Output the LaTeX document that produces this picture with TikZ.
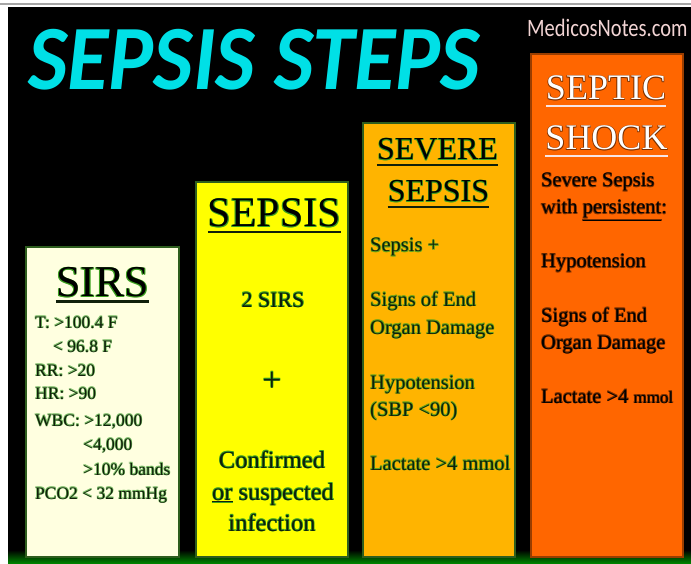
\documentclass[tikz,border=0pt]{standalone}
\usepackage{fontspec}
\setmainfont{Liberation Serif}
\newfontfamily\titlefont{Carlito}
\definecolor{cream}{HTML}{FFFFE0}
\definecolor{ylw}{HTML}{FFFF00}
\definecolor{amber}{HTML}{FFB400}
\definecolor{redor}{HTML}{FF6600}
\definecolor{cyant}{HTML}{00E0E6}
\definecolor{pinkt}{HTML}{F2D4D4}
\definecolor{txtc}{HTML}{10200A}
\definecolor{glowg}{HTML}{3CA020}
\definecolor{glowb}{HTML}{7A3000}
\definecolor{edgec}{HTML}{2E5E1E}
\newcommand\glowtxt[2]{%
 \makebox[0pt][l]{\color{#1}\kern-0.55pt\raisebox{0.55pt}{#2}}%
 \makebox[0pt][l]{\color{#1}\kern0.55pt\raisebox{-0.55pt}{#2}}%
 \makebox[0pt][l]{\color{#1}\kern0.55pt\raisebox{0.55pt}{#2}}%
 \makebox[0pt][l]{\color{#1}\kern-0.55pt\raisebox{-0.55pt}{#2}}%
 #2}
\newcommand\fs[1]{\fontsize{#1}{#1}\selectfont}
\begin{document}
\begin{tikzpicture}[x=1pt,y=-1pt,
  panel/.style={draw=edgec,line width=1.2pt},
  txt/.style={inner sep=0pt,anchor=base west,text=txtc},
  head/.style={inner sep=0pt,anchor=base,text=black},
  uline/.style={line width=2.6pt,draw=txtc},
  wline/.style={line width=2.2pt,draw=pinkt!60!white}]
\useasboundingbox (0,0) rectangle (691,564);
\fill[white] (0,0) rectangle (691,564);
\draw[gray!70,line width=1.2pt] (0,4) -- (691,4);
\fill[black] (8,7) rectangle (691,564);
\shade[top color=black,bottom color=green!55!black] (8,550) rectangle (691,564);
% title
\node[inner sep=0pt,anchor=base west,text=cyant,font=\titlefont\bfseries\itshape\fs{92}] (title) at (28,90) {\scalebox{0.92}[1]{SEPSIS STEPS}};
\node[inner sep=0pt,anchor=base west,text=pinkt,font=\titlefont\fs{25}] (site) at (527,37) {\scalebox{0.82}[1]{MedicosNotes.com}};
% panels
\filldraw[panel,fill=cream] (26,247) rectangle (179,557);
\filldraw[panel,fill=ylw] (196,182) rectangle (348,557);
\filldraw[panel,fill=amber] (363,123) rectangle (515,557);
\filldraw[panel,fill=redor,draw=redor!60!black] (531,54) rectangle (683,557);
% SIRS
\node[head,font=\fs{44}] (sirsH) at (102.5,297) {\glowtxt{glowg}{SIRS}};
\draw[uline] ([yshift=-4.5pt]sirsH.base west) -- ([yshift=-4.5pt]sirsH.base east);
\begin{scope}[every node/.style={txt,font=\fs{17.5}}]
\node (s1) at (35,328) {\glowtxt{glowg!70!white}{T: >100.4 F}};
\node (s2) at (53,352) {\glowtxt{glowg!70!white}{< 96.8 F}};
\node (s3) at (35,376) {\glowtxt{glowg!70!white}{RR: >20}};
\node (s4) at (35,399) {\glowtxt{glowg!70!white}{HR: >90}};
\node (s5) at (35,426) {\glowtxt{glowg!70!white}{WBC: >12,000}};
\node (s6) at (83,450) {\glowtxt{glowg!70!white}{<4,000}};
\node (s7) at (83,475) {\glowtxt{glowg!70!white}{>10\% bands}};
\node (s8) at (35,499) {\glowtxt{glowg!70!white}{PCO2 < 32 mmHg}};
\end{scope}
% SEPSIS
\node[head,font=\fs{42}] (sepH) at (274.5,227) {\glowtxt{glowg}{SEPSIS}};
\draw[uline] ([yshift=-5pt]sepH.base west) -- ([yshift=-5pt]sepH.base east);
\begin{scope}[every node/.style={inner sep=0pt,anchor=base,text=txtc}]
\node[font=\fs{22}] (p1) at (273,307) {\glowtxt{glowg}{2 SIRS}};
\node[font=\fs{34}] (p2) at (272,391) {\glowtxt{glowg}{+}};
\node[font=\fs{24.5}] (p3) at (272,468) {\glowtxt{glowg}{Confirmed}};
\node[font=\fs{24.5}] (p4) at (273,500) {\glowtxt{glowg}{\underline{or} suspected}};
\node[font=\fs{24.5}] (p5) at (272,531) {\glowtxt{glowg}{infection}};
\end{scope}
% SEVERE SEPSIS
\node[head,font=\fs{32}] (sevH1) at (437.5,160) {\glowtxt{glowg}{SEVERE}};
\draw[uline] ([yshift=-5pt]sevH1.base west) -- ([yshift=-5pt]sevH1.base east);
\node[head,font=\fs{32}] (sevH2) at (438.5,202) {\glowtxt{glowg}{SEPSIS}};
\draw[uline] ([yshift=-5pt]sevH2.base west) -- ([yshift=-5pt]sevH2.base east);
\begin{scope}[every node/.style={txt,font=\fs{20.5}}]
\node (v1) at (370,252) {\glowtxt{glowg!80!amber}{Sepsis +}};
\node (v2) at (370,306) {\glowtxt{glowg!80!amber}{Signs of End}};
\node (v3) at (370,334) {\glowtxt{glowg!80!amber}{Organ Damage}};
\node (v4) at (370,389) {\glowtxt{glowg!80!amber}{Hypotension}};
\node (v5) at (370,416) {\glowtxt{glowg!80!amber}{(SBP <90)}};
\node (v6) at (370,470) {\glowtxt{glowg!80!amber}{Lactate >4 mmol}};
\end{scope}
% SEPTIC SHOCK
\node[head,text=white,font=\fs{36}] (shH1) at (606,100) {\glowtxt{glowb}{SEPTIC}};
\draw[wline] ([yshift=-6pt]shH1.base west) -- ([yshift=-6pt]shH1.base east);
\node[head,text=white,font=\fs{36}] (shH2) at (606.5,150) {\glowtxt{glowb}{SHOCK}};
\draw[wline] ([yshift=-6pt]shH2.base west) -- ([yshift=-6pt]shH2.base east);
\begin{scope}[every node/.style={txt,text=black,font=\fs{20.5}}]
\node (k1) at (541,187) {\glowtxt{glowb}{Severe Sepsis}};
\node (k2) at (541,214) {\glowtxt{glowb}{with \underline{persistent}:}};
\node (k3) at (541,268) {\glowtxt{glowb}{Hypotension}};
\node (k4) at (541,322) {\glowtxt{glowb}{Signs of End}};
\node (k5) at (541,349) {\glowtxt{glowb}{Organ Damage}};
\node (k6) at (541,403) {\glowtxt{glowb}{Lactate >4 {\fs{17}mmol}}};
\end{scope}
\end{tikzpicture}
\end{document}
